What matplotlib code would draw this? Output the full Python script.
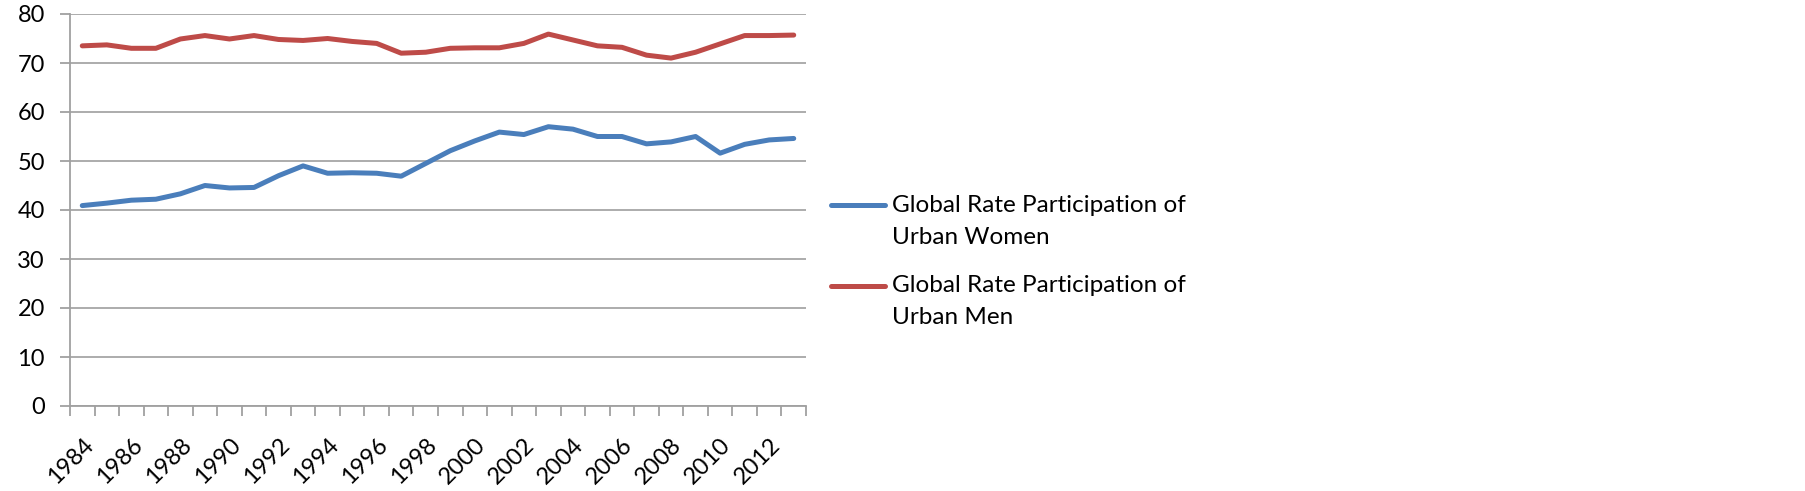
import numpy as np
import matplotlib
matplotlib.use("Agg")
import matplotlib.pyplot as plt
from matplotlib.lines import Line2D

years = list(range(1984, 2014))
women = [40.9, 41.4, 42.0, 42.2, 43.3, 45.0, 44.5, 44.6, 47.0, 49.0,
         47.5, 47.6, 47.5, 46.9, 49.5, 52.1, 54.1, 55.9, 55.4, 57.0,
         56.5, 55.0, 55.0, 53.5, 53.9, 55.0, 51.6, 53.4, 54.3, 54.6]
men = [73.5, 73.7, 73.0, 73.0, 74.9, 75.6, 74.9, 75.6, 74.8, 74.6,
       75.0, 74.4, 74.0, 72.0, 72.2, 73.0, 73.1, 73.1, 74.0, 75.9,
       74.7, 73.5, 73.2, 71.6, 71.0, 72.2, 73.9, 75.6, 75.6, 75.7]
labels = [["Global Rate Participation of", "Urban Women"],
          ["Global Rate Participation of", "Urban Men"]]
yticks = [0, 10, 20, 30, 40, 50, 60, 70, 80]
colors = ["#4a7ebb", "#be4b48"]

plt.rcParams["font.family"] = ["Lato", "DejaVu Sans"]
W, H = 1805, 491
fig = plt.figure(figsize=(W / 100, H / 100), dpi=100)
ax = fig.add_axes([70 / W, 1 - 406 / H, (806 - 70) / W, (406 - 14) / H])

x = np.arange(len(years))
ax.plot(x, women, color=colors[0], lw=3.6, solid_capstyle="round")
ax.plot(x, men, color=colors[1], lw=3.6, solid_capstyle="round")

ax.set_xlim(-0.5, len(years) - 0.5)
ax.set_ylim(0, 80)
ax.set_yticks(yticks)
ax.yaxis.grid(True, color="#a6a6a6", lw=1.3)
ax.set_axisbelow(True)

grey = "#a0a0a0"
for s in ["top", "right"]:
    ax.spines[s].set_visible(False)
for s in ["left", "bottom"]:
    ax.spines[s].set_color(grey)
    ax.spines[s].set_linewidth(1.3)

ax.tick_params(axis="y", length=7, width=1.3, color=grey, labelsize=17, pad=11)
ax.set_xticks(np.arange(-0.5, len(years)), minor=False)
ax.set_xticklabels([])
ax.tick_params(axis="x", which="major", length=7, width=1.3, color=grey)
ax.set_xticks(x[::2], minor=True)
ax.set_xticklabels([str(y) for y in years[::2]], minor=True, rotation=45,
                   ha="right", va="top", rotation_mode="anchor", fontsize=17)
ax.tick_params(axis="x", which="minor", length=0, pad=20)

# legend drawn by hand so the key sits on the first text line
for (y1, y2), c, lab in zip([(205, 238), (286, 318)], colors, labels):
    fig.add_artist(Line2D([831 / W, 885 / W], [1 - y1 / H, 1 - y1 / H],
                          color=c, lw=3.6, solid_capstyle="round"))
    fig.text(892 / W, 1 - y1 / H, lab[0], va="center", ha="left", fontsize=17.5)
    fig.text(892 / W, 1 - y2 / H, lab[1], va="center", ha="left", fontsize=17.5)

fig.savefig("out.png", dpi=100)
